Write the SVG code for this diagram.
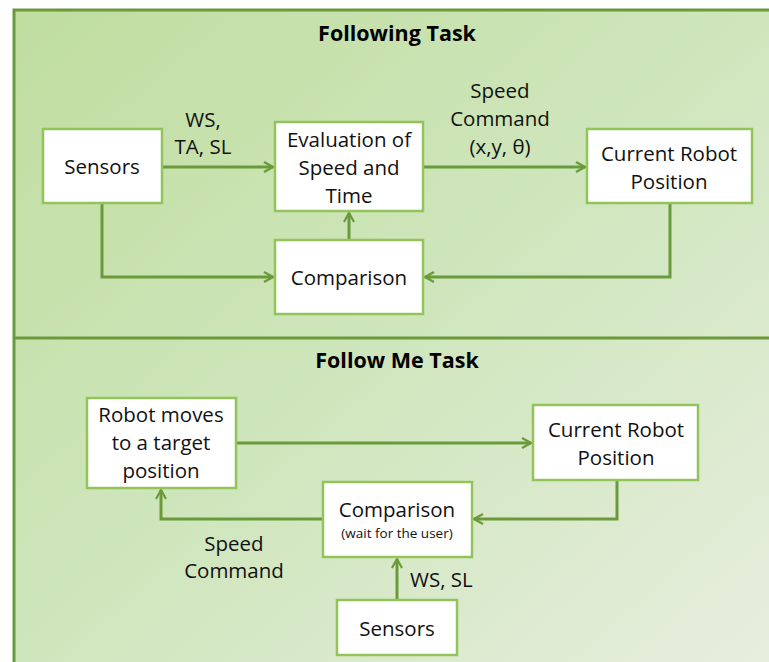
<svg xmlns="http://www.w3.org/2000/svg" width="769" height="662" viewBox="0 0 769 662">
<defs>
<linearGradient id="bg" x1="0" y1="0" x2="1" y2="1" gradientUnits="objectBoundingBox">
<stop offset="0" stop-color="#c0dd9f"/>
<stop offset="0.5" stop-color="#cfe6bd"/>
<stop offset="1" stop-color="#e8eedf"/>
</linearGradient>
<marker id="ah" viewBox="0 0 12 12" refX="10" refY="6" markerWidth="12" markerHeight="12" markerUnits="userSpaceOnUse" orient="auto">
<path d="M1,1 L10,6 L1,11" fill="none" stroke="#6b9a3a" stroke-width="2.2"/>
</marker>
</defs>
<style>
.frame{fill:none;stroke:#6b9a3a;stroke-width:3}
.box{fill:#ffffff;stroke:#92c45a;stroke-width:2.5}
.t{font-family:"Open Sans","Liberation Sans",sans-serif;font-size:20.5px;fill:#111;text-anchor:middle}
.s{font-family:"Open Sans","Liberation Sans",sans-serif;font-size:13.5px;fill:#111;text-anchor:middle}
.h{font-family:"Open Sans","Liberation Sans",sans-serif;font-size:21.5px;font-weight:bold;fill:#000;text-anchor:middle}
.c{fill:none;stroke:#6b9a3a;stroke-width:3;marker-end:url(#ah)}
</style>
<rect x="0" y="0" width="769" height="662" fill="#ffffff"/>
<rect x="14" y="10" width="770" height="670" fill="url(#bg)"/>
<rect x="14" y="10" width="770" height="670" class="frame"/>
<line x1="14" y1="338" x2="769" y2="338" stroke="#6b9a3a" stroke-width="3"/>
<text class="h" x="397" y="41">Following Task</text>
<text class="h" x="397" y="368">Follow Me Task</text>

<g id="connectors">
<path class="c" d="M162,167 H273"/>
<path class="c" d="M423,167 H585"/>
<path class="c" d="M349,240 V213"/>
<path class="c" d="M102,203 V277 H273"/>
<path class="c" d="M670,203 V277 H425"/>
<path class="c" d="M236,443 H531"/>
<path class="c" d="M617,480 V519 H474"/>
<path class="c" d="M323,519 H161 V490"/>
<path class="c" d="M397,600 V559"/>
<text class="t" x="203" y="127">WS,</text>
<text class="t" x="203" y="154">TA, SL</text>
<text class="t" x="500" y="98">Speed</text>
<text class="t" x="500" y="126">Command</text>
<text class="t" x="500" y="154">(x,y, θ)</text>
<text class="t" x="234" y="551">Speed</text>
<text class="t" x="234" y="578">Command</text>
<text class="t" x="410" y="587" style="text-anchor:start">WS, SL</text>
</g>

<g id="sensors1"><rect class="box" x="43" y="129" width="119" height="74"/><text class="t" x="102" y="174">Sensors</text></g>
<g id="eval"><rect class="box" x="275" y="122" width="148" height="89"/><text class="t" x="349" y="147">Evaluation of</text><text class="t" x="349" y="175">Speed and</text><text class="t" x="349" y="203">Time</text></g>
<g id="comparison1"><rect class="box" x="275" y="240" width="148" height="74"/><text class="t" x="349" y="285">Comparison</text></g>
<g id="current1"><rect class="box" x="587" y="129" width="165" height="74"/><text class="t" x="669" y="161">Current Robot</text><text class="t" x="669" y="189">Position</text></g>

<g id="robotmoves"><rect class="box" x="87" y="398" width="149" height="90"/><text class="t" x="161" y="422">Robot moves</text><text class="t" x="161" y="450">to a target</text><text class="t" x="161" y="478">position</text></g>
<g id="current2"><rect class="box" x="533" y="405" width="165" height="75"/><text class="t" x="616" y="437">Current Robot</text><text class="t" x="616" y="465">Position</text></g>
<g id="comparison2"><rect class="box" x="323" y="482" width="149" height="75"/><text class="t" x="397" y="517">Comparison</text><text class="s" x="397" y="538">(wait for the user)</text></g>
<g id="sensors2"><rect class="box" x="337" y="600" width="120" height="55"/><text class="t" x="397" y="636">Sensors</text></g>
</svg>
